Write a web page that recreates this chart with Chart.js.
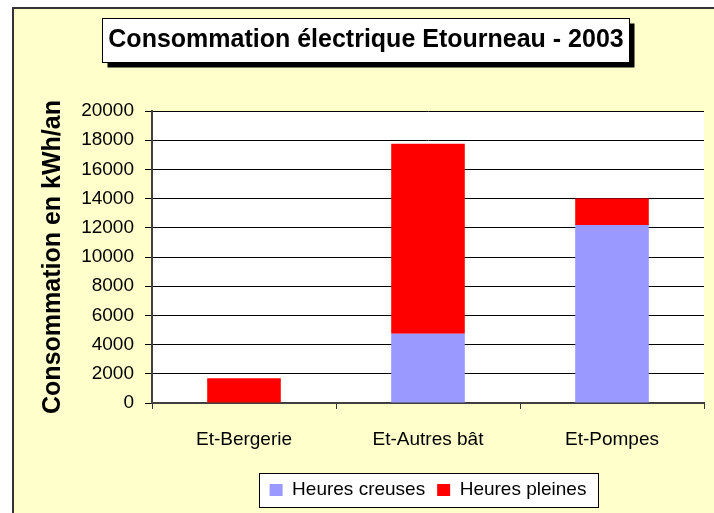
<!DOCTYPE html>
<html>
<head>
<meta charset="utf-8">
<script src="https://cdn.jsdelivr.net/npm/chart.js@4/dist/chart.umd.min.js"></script>
<style>
  html, body { margin: 0; padding: 0; background: #ffffff; }
  #wrap { position: relative; width: 714px; height: 513px; }
</style>
</head>
<body>
<div id="wrap"><canvas id="c" width="714" height="513"></canvas></div>
<script>
// ---- data ----
const categories = ['Et-Bergerie', 'Et-Autres bât', 'Et-Pompes'];
const heuresCreuses = [0, 4750, 12200];
const heuresPleines = [1700, 13000, 1800];
const seriesNames = ['Heures creuses', 'Heures pleines'];
const chartTitle = 'Consommation électrique Etourneau - 2003';
const yAxisTitle = 'Consommation en kWh/an';
const yTickMin = 0, yTickMax = 20000, yTickStep = 2000;

const FONT = '"Liberation Sans", Arial, Helvetica, sans-serif';

const framePlugin = {
  id: 'frame',
  beforeDraw(chart) {
    const ctx = chart.ctx;
    const W = chart.width, H = chart.height;
    ctx.save();
    // page
    ctx.fillStyle = '#ffffff';
    ctx.fillRect(0, 0, W, H);
    // yellow chart background
    ctx.fillStyle = '#FFFFCC';
    ctx.fillRect(13, 8, W - 13, H - 8);
    ctx.fillStyle = '#333333';
    ctx.fillRect(12, 7, 2, H - 7);
    ctx.fillRect(12, 7, W - 12, 2);
    // plot area
    const a = chart.chartArea;
    ctx.fillStyle = '#ffffff';
    ctx.fillRect(a.left, a.top, a.right - a.left, a.bottom - a.top);
    // title box with shadow
    const tOpts = chart.options.plugins.title;
    ctx.font = 'bold ' + tOpts.font.size + 'px ' + FONT;
    const tw = ctx.measureText(chartTitle).width;
    const cx = (chart.titleBlock.left + chart.titleBlock.right) / 2;
    const bx = Math.round(cx - tw / 2 - 6) + 0.5, by = 18.5, bw = Math.round(tw + 12), bh = 44;
    ctx.fillStyle = '#000000';
    ctx.fillRect(bx + 5, by + 5, bw, bh);
    ctx.fillStyle = '#ffffff';
    ctx.fillRect(bx, by, bw, bh);
    ctx.strokeStyle = '#000000';
    ctx.lineWidth = 1;
    ctx.strokeRect(bx, by, bw, bh);
    // legend box
    const lg = chart.legend;
    if (lg && lg.legendHitBoxes && lg.legendHitBoxes.length) {
      const hb = lg.legendHitBoxes;
      const l = Math.round(hb[0].left - 11) + 0.5;
      const last = hb[hb.length - 1];
      const r = Math.round(last.left + last.width + 12) + 0.5;
      const midY = hb[0].top + hb[0].height / 2;
      const t = Math.round(midY - 17) + 0.5;
      ctx.fillStyle = '#ffffff';
      ctx.fillRect(l, t, r - l, 34);
      ctx.strokeStyle = '#000000';
      ctx.strokeRect(l, t, r - l, 34);
    }
    ctx.restore();
  }
};

new Chart(document.getElementById('c'), {
  type: 'bar',
  data: {
    labels: categories,
    datasets: [
      { label: seriesNames[0], data: heuresCreuses, backgroundColor: '#9999FF', borderWidth: 0 },
      { label: seriesNames[1], data: heuresPleines, backgroundColor: '#FF0000', borderWidth: 0 }
    ]
  },
  options: {
    responsive: false,
    animation: false,
    devicePixelRatio: 1,
    layout: { padding: { left: 28, right: 10, top: 0, bottom: 3.5 } },
    datasets: { bar: { barPercentage: 0.4, categoryPercentage: 1.0 } },
    plugins: {
      tooltip: { enabled: false },
      title: {
        display: true,
        text: chartTitle,
        color: '#000000',
        font: { family: FONT, size: 25, weight: 'bold', lineHeight: 1.2 },
        padding: { top: 25, bottom: 56 }
      },
      legend: {
        display: true,
        position: 'bottom',
        fullSize: false,
        labels: {
          color: '#000000',
          font: { family: FONT, size: 19 },
          boxWidth: 13,
          boxHeight: 12,
          padding: 12
        }
      }
    },
    scales: {
      x: {
        stacked: true,
        afterFit(scale) { scale.height = 65.5; },
        grid: { display: true, drawOnChartArea: false, drawTicks: true, tickLength: 6, offset: true, color: '#333333' },
        border: { display: true, color: '#404040', width: 2 },
        ticks: { color: '#000000', font: { family: FONT, size: 19 }, padding: 19, maxRotation: 0, autoSkip: false }
      },
      y: {
        stacked: true,
        min: yTickMin,
        max: yTickMax,
        afterFit(scale) { scale.width = 124; },
        grid: { color: '#000000', lineWidth: 1, tickLength: 7, drawTicks: true },
        border: { display: true, color: '#404040', width: 2 },
        ticks: {
          stepSize: yTickStep,
          color: '#000000',
          font: { family: FONT, size: 19 },
          padding: 11,
          callback: (v) => String(v)
        },
        title: {
          display: true,
          text: yAxisTitle,
          color: '#000000',
          font: { family: FONT, size: 25, weight: 'bold', lineHeight: 1.2 },
          padding: { top: 10, bottom: 0 }
        }
      }
    }
  },
  plugins: [framePlugin]
});
</script>
</body>
</html>
